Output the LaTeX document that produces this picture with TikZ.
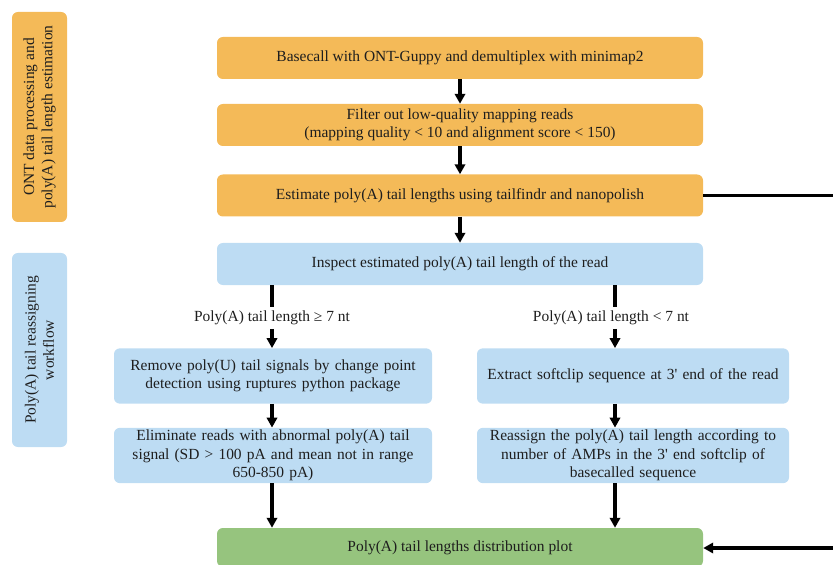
\documentclass[tikz,border=0pt]{standalone}
\usepackage{fontspec}
\setmainfont{Liberation Serif}
\usepackage{tikz}
\usetikzlibrary{positioning,calc,arrows.meta}
\definecolor{ontorange}{RGB}{244,186,88}
\definecolor{wfblue}{RGB}{189,220,243}
\definecolor{plotgreen}{RGB}{150,196,126}
\definecolor{txtgray}{RGB}{30,30,30}

\begin{document}
\begin{tikzpicture}[
  st/.style={rounded corners=5pt,align=center,text=txtgray,
             font=\fontsize{13.2}{15.6}\selectfont,inner sep=0pt},
  wide/.style={st,minimum width=14.58cm,minimum height=1.26cm},
  half/.style={st,minimum height=1.66cm,text width=9cm},
  grp/.style={st,rotate=90,minimum width=#1,minimum height=1.65cm},
  lbl/.style={font=\fontsize{13.2}{15.6}\selectfont,text=txtgray,inner sep=3pt},
  ln/.style={line width=2.8pt,color=black},
  arr/.style={-{Triangle[length=3mm,width=3.1mm]},line width=2.8pt,color=black}]
  \useasboundingbox (0,0) rectangle (24.99,-16.95);
  % group labels
  \node[grp=6.3cm,fill=ontorange] (grpont) at (1.185,-3.51) {ONT data processing and\\ poly(A) tail length estimation};
  \node[grp=5.82cm,fill=wfblue] (grpwf) at (1.185,-10.5) {Poly(A) tail reassigning\\ workflow};
  % main column
  \node[wide,fill=ontorange] (basecall) at (13.8,-1.74)  {Basecall with ONT-Guppy and demultiplex with minimap2};
  \node[wide,fill=ontorange] (filter)   at (13.8,-3.75)  {Filter out low-quality mapping reads\\ (mapping quality < 10 and alignment score < 150)};
  \node[wide,fill=ontorange] (estimate) at (13.8,-5.865) {Estimate poly(A) tail lengths using tailfindr and nanopolish};
  \node[wide,fill=wfblue]    (inspect)  at (13.8,-7.92)  {Inspect estimated poly(A) tail length of the read};
  \node[lbl] (lge) at (8.16,-9.54)  {Poly(A) tail length ≥ 7 nt};
  \node[lbl] (llt) at (18.33,-9.54) {Poly(A) tail length < 7 nt};
  \node[half,minimum width=9.54cm,fill=wfblue] (removeu)  at (8.19,-11.28)  {Remove poly(U) tail signals by change point\\ detection using ruptures python package};
  \node[half,minimum width=9.54cm,fill=wfblue] (elim)     at (8.19,-13.665) {Eliminate reads with abnormal poly(A) tail\\ signal (SD > 100 pA and mean not in range\\ 650-850 pA)};
  \node[half,minimum width=9.36cm,fill=wfblue] (softclip) at (18.99,-11.28) {Extract softclip sequence at 3\textquotesingle{} end of the read};
  \node[half,minimum width=9.36cm,fill=wfblue] (reassign) at (18.99,-13.665) {Reassign the poly(A) tail length according to\\ number of AMPs in the 3\textquotesingle{} end softclip of\\ basecalled sequence};
  \node[wide,minimum height=1.16cm,fill=plotgreen] (plot) at (13.8,-16.42) {Poly(A) tail lengths distribution plot};
  \coordinate (xl) at (8.16,0);
  \coordinate (xr) at (18.45,0);
  \coordinate (edgetop) at (24.99,-5.865);
  \coordinate (edgebot) at (24.99,-16.44);
  % connectors
  \draw[arr] (basecall)--(filter);
  \draw[arr] (filter)--(estimate);
  \draw[arr] (estimate)--(inspect);
  \draw[ln]  (inspect.south -| xl)--(lge.north -| xl);
  \draw[arr] (lge.south -| xl)--(removeu.north -| xl);
  \draw[ln]  (inspect.south -| xr)--(llt.north -| xr);
  \draw[arr] (llt.south -| xr)--(softclip.north -| xr);
  \draw[arr] (removeu.south -| xl)--(elim.north -| xl);
  \draw[arr] (softclip.south -| xr)--(reassign.north -| xr);
  \draw[arr] (elim.south -| xl)--(plot.north -| xl);
  \draw[arr] (reassign.south -| xr)--(plot.north -| xr);
  \draw[ln]  (estimate.east)--(edgetop);
  \draw[arr] (edgebot)--(plot.east |- edgebot);
\end{tikzpicture}
\end{document}
